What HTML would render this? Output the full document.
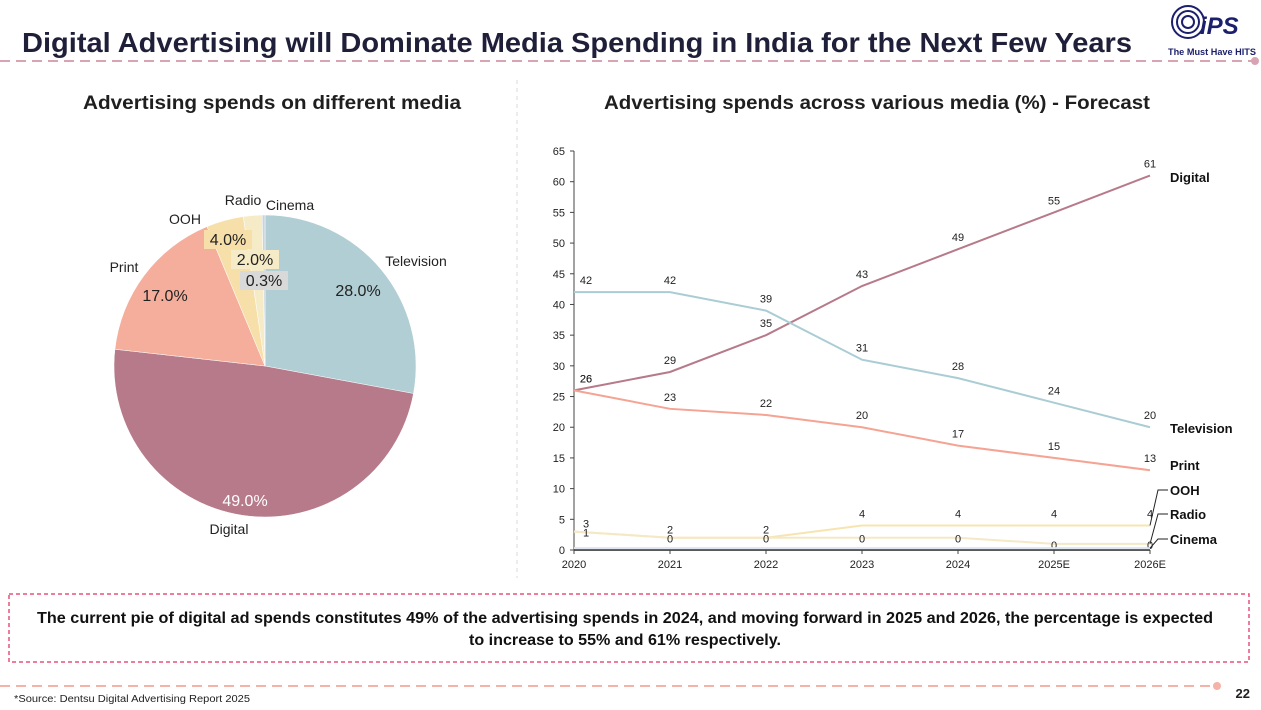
<!DOCTYPE html>
<html><head><meta charset="utf-8"><style>
html,body{margin:0;padding:0;background:#fff}
svg text{font-family:"Liberation Sans",sans-serif}
</style></head><body>
<svg id="s" width="1261" height="705" viewBox="0 0 1261 705" xmlns="http://www.w3.org/2000/svg">
<text x="22" y="52" font-size="28" font-weight="bold" fill="#1f1f3a" textLength="1110" lengthAdjust="spacingAndGlyphs">Digital Advertising will Dominate Media Spending in India for the Next Few Years</text>
<line x1="0" y1="61" x2="1252" y2="61" stroke="#d8a4b4" stroke-width="2" stroke-dasharray="10,6"/>
<circle cx="1255" cy="61" r="4" fill="#d8a4b4"/>
<g>
<circle cx="1188" cy="22" r="16" fill="none" stroke="#1c1f6b" stroke-width="2"/>
<circle cx="1188" cy="22" r="11" fill="none" stroke="#1c1f6b" stroke-width="2"/>
<circle cx="1188" cy="22" r="6" fill="none" stroke="#1c1f6b" stroke-width="2"/>
<text x="1200" y="34" font-size="24" font-weight="bold" font-style="italic" fill="#1c1f6b">iPS</text>
<text x="1168" y="55" font-size="9" font-weight="bold" fill="#1c1f6b" textLength="88" lengthAdjust="spacingAndGlyphs">The Must Have HITS</text>
</g>
<line x1="517" y1="80" x2="517" y2="578" stroke="#d9d9d9" stroke-dasharray="4,4"/>
<text x="272" y="109" font-size="19" font-weight="bold" text-anchor="middle" fill="#1f1f1f" textLength="378" lengthAdjust="spacingAndGlyphs">Advertising spends on different media</text>
<text x="877" y="109" font-size="19" font-weight="bold" text-anchor="middle" fill="#1f1f1f" textLength="546" lengthAdjust="spacingAndGlyphs">Advertising spends across various media (%)  - Forecast</text>
<g id="pie"></g>
<g id="chart"></g>
<rect x="9" y="594" width="1240" height="68" fill="none" stroke="#e8507a" stroke-width="1.5" stroke-dasharray="4,3"/>
<text x="625" y="623" font-size="16" font-weight="bold" text-anchor="middle" fill="#111" textLength="1176" lengthAdjust="spacingAndGlyphs">The current pie of digital ad spends constitutes 49% of the advertising spends in 2024, and moving forward in 2025 and 2026, the percentage is expected</text>
<text x="625" y="645" font-size="16" font-weight="bold" text-anchor="middle" fill="#111" textLength="312" lengthAdjust="spacingAndGlyphs">to increase to 55% and 61% respectively.</text>
<line x1="0" y1="686" x2="1214" y2="686" stroke="#f4b3a6" stroke-width="2" stroke-dasharray="10,6"/>
<circle cx="1217" cy="686" r="4" fill="#f4b3a6"/>
<text x="14" y="702" font-size="10" fill="#222" textLength="236" lengthAdjust="spacingAndGlyphs">*Source: Dentsu Digital Advertising Report 2025</text>
<text x="1250" y="698" font-size="13" font-weight="bold" text-anchor="end" fill="#222">22</text>
</svg>
<script>
const NS="http://www.w3.org/2000/svg";
function mk(p,t,a,txt){const e=document.createElementNS(NS,t);for(const k in a)e.setAttribute(k,a[k]);if(txt!==undefined)e.textContent=txt;p.appendChild(e);return e;}

// Pie data
const pieLabels=["Television","Digital","Print","OOH","Radio","Cinema"];
const pieValues=[28.0,49.0,17.0,4.0,2.0,0.3];
const pieColors=["#b0ced3","#b67a8a","#f5ae9b","#f7dfaa","#f5ebc6","#c9d3dd"];
const pie=document.getElementById('pie');
const cx=265,cy=366,R=151;
const tot=pieValues.reduce((a,b)=>a+b,0);
let a0=0;
const outerPos=[[416,266],[229,534],[124,272],[185,224],[243,205],[290,210]];
const innerPos=[[358,293],[245,503],[165,298],[228,242],[255,262],[264,283]];
pieValues.forEach((v,i)=>{
  const a1=a0+v/tot*2*Math.PI;
  const x0=cx+R*Math.sin(a0),y0=cy-R*Math.cos(a0),x1=cx+R*Math.sin(a1),y1=cy-R*Math.cos(a1);
  const s=mk(pie,'path',{d:`M${cx},${cy}L${x0},${y0}A${R},${R} 0 ${a1-a0>Math.PI?1:0} 1 ${x1},${y1}Z`,fill:pieColors[i],stroke:'#fff','stroke-width':0.5});
  
  
  a0=a1;
});
pieValues.forEach((v,i)=>{
  const [ix,iy]=innerPos[i];
  if(i>=3){const bg=mk(pie,'rect',{x:ix-24,y:iy-12,width:48,height:19,fill:i==5?'#d9d9d9':pieColors[i]});}
  const t=mk(pie,'text',{x:ix,y:iy+3,'font-size':16,'text-anchor':'middle',fill:i==1?'#fff':'#222'},v.toFixed(1)+'%');
  
  
  const [ox,oy]=outerPos[i];
  const l=mk(pie,'text',{x:ox,y:oy,'font-size':14,'text-anchor':'middle',fill:'#222'},pieLabels[i]);
  
  
});

// Line chart data
const years=["2020","2021","2022","2023","2024","2025E","2026E"];
const yTicks=[0,5,10,15,20,25,30,35,40,45,50,55,60,65];
const seriesNames=["Digital","Television","Print","OOH","Radio","Cinema"];
const digital=[26,29,35,43,49,55,61];
const television=[42,42,39,31,28,24,20];
const print=[26,23,22,20,17,15,13];
const ooh=[3,2,2,4,4,4,4];
const radio=[3,2,2,2,2,1,1];
const cinema=[0.3,0.3,0.3,0.3,0.3,0.3,0.3];
const seriesData=[digital,television,print,ooh,radio,cinema];
const seriesColors=["#b67a8a","#aacdd4","#f5a393","#f7e4b0","#f5e8c6","#dde6ee"];
const seriesLabelY=[177,428,465,490,514,539];

const ch=document.getElementById('chart');
const X0=574,X1=1150,Y0=550,Ytop=151;
const xs=i=>X0+i*(X1-X0)/(years.length-1);
const ys=v=>Y0-v*(Y0-Ytop)/65;
const ax=mk(ch,'line',{x1:X0,y1:Ytop,x2:X0,y2:Y0,stroke:'#444'});

yTicks.forEach(t=>{
  mk(ch,'line',{x1:X0-4,y1:ys(t),x2:X0,y2:ys(t),stroke:'#444'});
  const tx=mk(ch,'text',{x:X0-9,y:ys(t)+4,'font-size':11,'text-anchor':'end',fill:'#222'},t);
  
});
const xa=mk(ch,'line',{x1:X0,y1:Y0,x2:X1,y2:Y0,stroke:'#222','stroke-width':1.5});

years.forEach((y,i)=>{
  mk(ch,'line',{x1:xs(i),y1:Y0,x2:xs(i),y2:Y0+4,stroke:'#444'});
  const tx=mk(ch,'text',{x:xs(i),y:Y0+18,'font-size':11,'text-anchor':'middle',fill:'#222'},y);
  
});
seriesData.forEach((d,s)=>{
  const p=mk(ch,'polyline',{points:d.map((v,i)=>xs(i)+','+ys(v)).join(' '),fill:'none',stroke:seriesColors[s],'stroke-width':2});
  
  
  if(s<5){d.forEach((v,i)=>{
    const off=(s==4)?-(-12):-8;
    let yy=s==4?ys(v)+5:ys(v)-8;
    if(s==3&&v<3.5)yy=ys(v)-4;
    const t=mk(ch,'text',{x:xs(i)+(i==0?12:0),y:yy,'font-size':11,'text-anchor':'middle',fill:'#222'},Math.round(s==4?v-2<0?0:v-2:v));
    
    
  });}
  const lb=mk(ch,'text',{x:1170,y:seriesLabelY[s]+5,'font-size':13,'font-weight':'bold',fill:'#111'},seriesNames[s]);
  
  
  if(s>=3){const ll=mk(ch,'polyline',{points:`${X1},${ys(d[6])} ${1158},${seriesLabelY[s]} 1168,${seriesLabelY[s]}`,fill:'none',stroke:'#222'});}
});
</script>
</body></html>
